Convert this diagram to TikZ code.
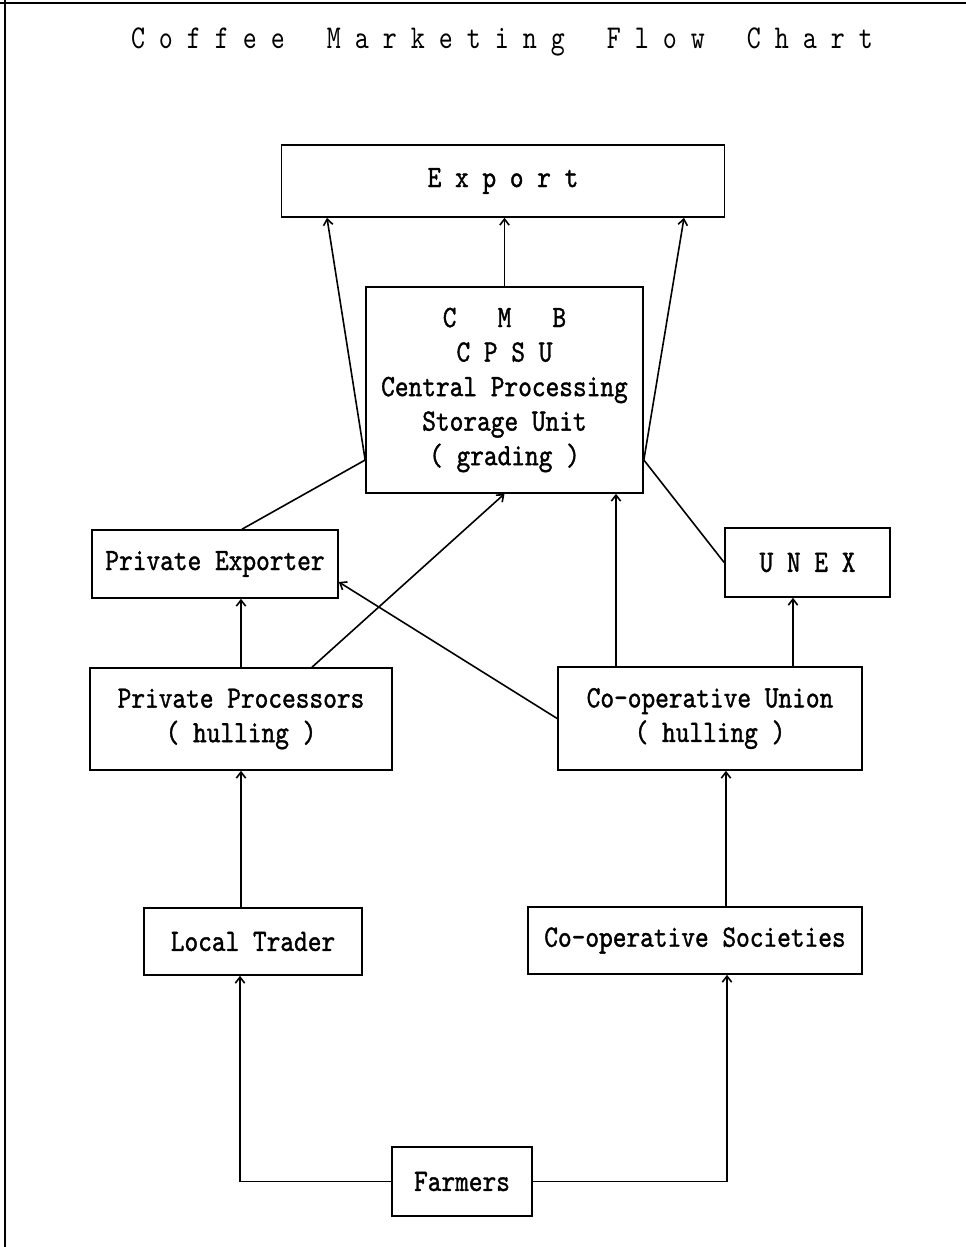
\documentclass[tikz,border=0pt]{standalone}
\usepackage{fontspec}
\newfontfamily\chartfont{lmmono10-regular.otf}[FakeStretch=0.84, FakeBold=1.2]
\newfontfamily\titlefont{lmmono10-regular.otf}[FakeStretch=0.8]
\usetikzlibrary{arrows.meta}

\begin{document}
\begin{tikzpicture}[x=0.75pt, y=-0.75pt,
  box/.style={draw, line width=1.2pt, inner sep=0pt, align=center,
    font=\chartfont\fontsize{23.3}{25.9}\selectfont},
  flow/.style={-{Straight Barb[length=4.5pt, width=7pt]}, line width=1.2pt}]
\useasboundingbox (0,0) rectangle (966,1247);
%\draw [help lines, step=50] (0,0) grid (966,1247);

% frame
\draw [line width=2pt] (0,3) -- (966,3);
\draw [line width=2pt] (5,0) -- (5,1247);

\node [font=\titlefont\fontsize{25}{28}\selectfont] (title) at (502,42)
  {C~o~f~f~e~e~~~M~a~r~k~e~t~i~n~g~~~F~l~o~w~~~C~h~a~r~t};

\node [box, minimum width=332.3pt, minimum height=54pt] (export) at (503,181) {E~x~p~o~r~t};
\node [box, minimum width=207.8pt, minimum height=154.5pt] (cmb) at (504.5,390)
  {C~~~M~~~B\\C~P~S~U\\Central Processing\\Storage Unit\\(~grading~)};
\node [box, minimum width=184.5pt, minimum height=51pt] (pexp) at (215,564) {Private Exporter};
\node [box, minimum width=123.8pt, minimum height=51.8pt] (unex) at (807.5,562.5) {U~N~E~X};
\node [box, minimum width=226.5pt, minimum height=76.5pt] (pproc) at (241,719)
  {Private Processors\\(~hulling~)};
\node [box, minimum width=228pt, minimum height=77.3pt] (cunion) at (710,718.5)
  {Co-operative Union\\(~hulling~)};
\node [box, minimum width=163.5pt, minimum height=50.3pt] (ltrader) at (253,941.5) {Local Trader};
\node [box, minimum width=250.5pt, minimum height=50.3pt] (csoc) at (695,940.5) {Co-operative Societies};
\node [box, minimum width=105pt, minimum height=51.8pt] (farmers) at (462,1181.5) {Farmers};

% farmers up
\draw [flow] (farmers.west) -| ([xshift=-9.75pt]ltrader.south);
\draw [flow] (farmers.east) -| ([xshift=24pt]csoc.south);

\draw [flow] (ltrader.north -| pproc.south) -- (pproc.south);
\draw [flow] ([xshift=12pt]cunion.south |- csoc.north) -- ([xshift=12pt]cunion.south);

\draw [flow] (pproc.north) -- (pproc.north |- pexp.south);
\draw [flow] ([xshift=53.25pt]pproc.north) -- (cmb.south);
\draw [flow] ([xshift=-70.5pt]cunion.north) -- ([xshift=-70.5pt]cunion.north |- cmb.south);
\draw [flow] ([xshift=62.25pt]cunion.north) -- ([xshift=62.25pt]cunion.north |- unex.south);
\draw [flow] (cunion.west) -- ([yshift=-13.5pt]pexp.east);

% to export
\draw [flow] ([xshift=20.25pt]pexp.north) -- ([yshift=-52.5pt]cmb.west) -- ([xshift=-132pt]export.south);
\draw [flow] (unex.west) -- ([yshift=-52.5pt]cmb.east) -- ([xshift=135.75pt]export.south);
\draw [flow] (cmb.north) -- (cmb.north |- export.south);

\end{tikzpicture}
\end{document}
